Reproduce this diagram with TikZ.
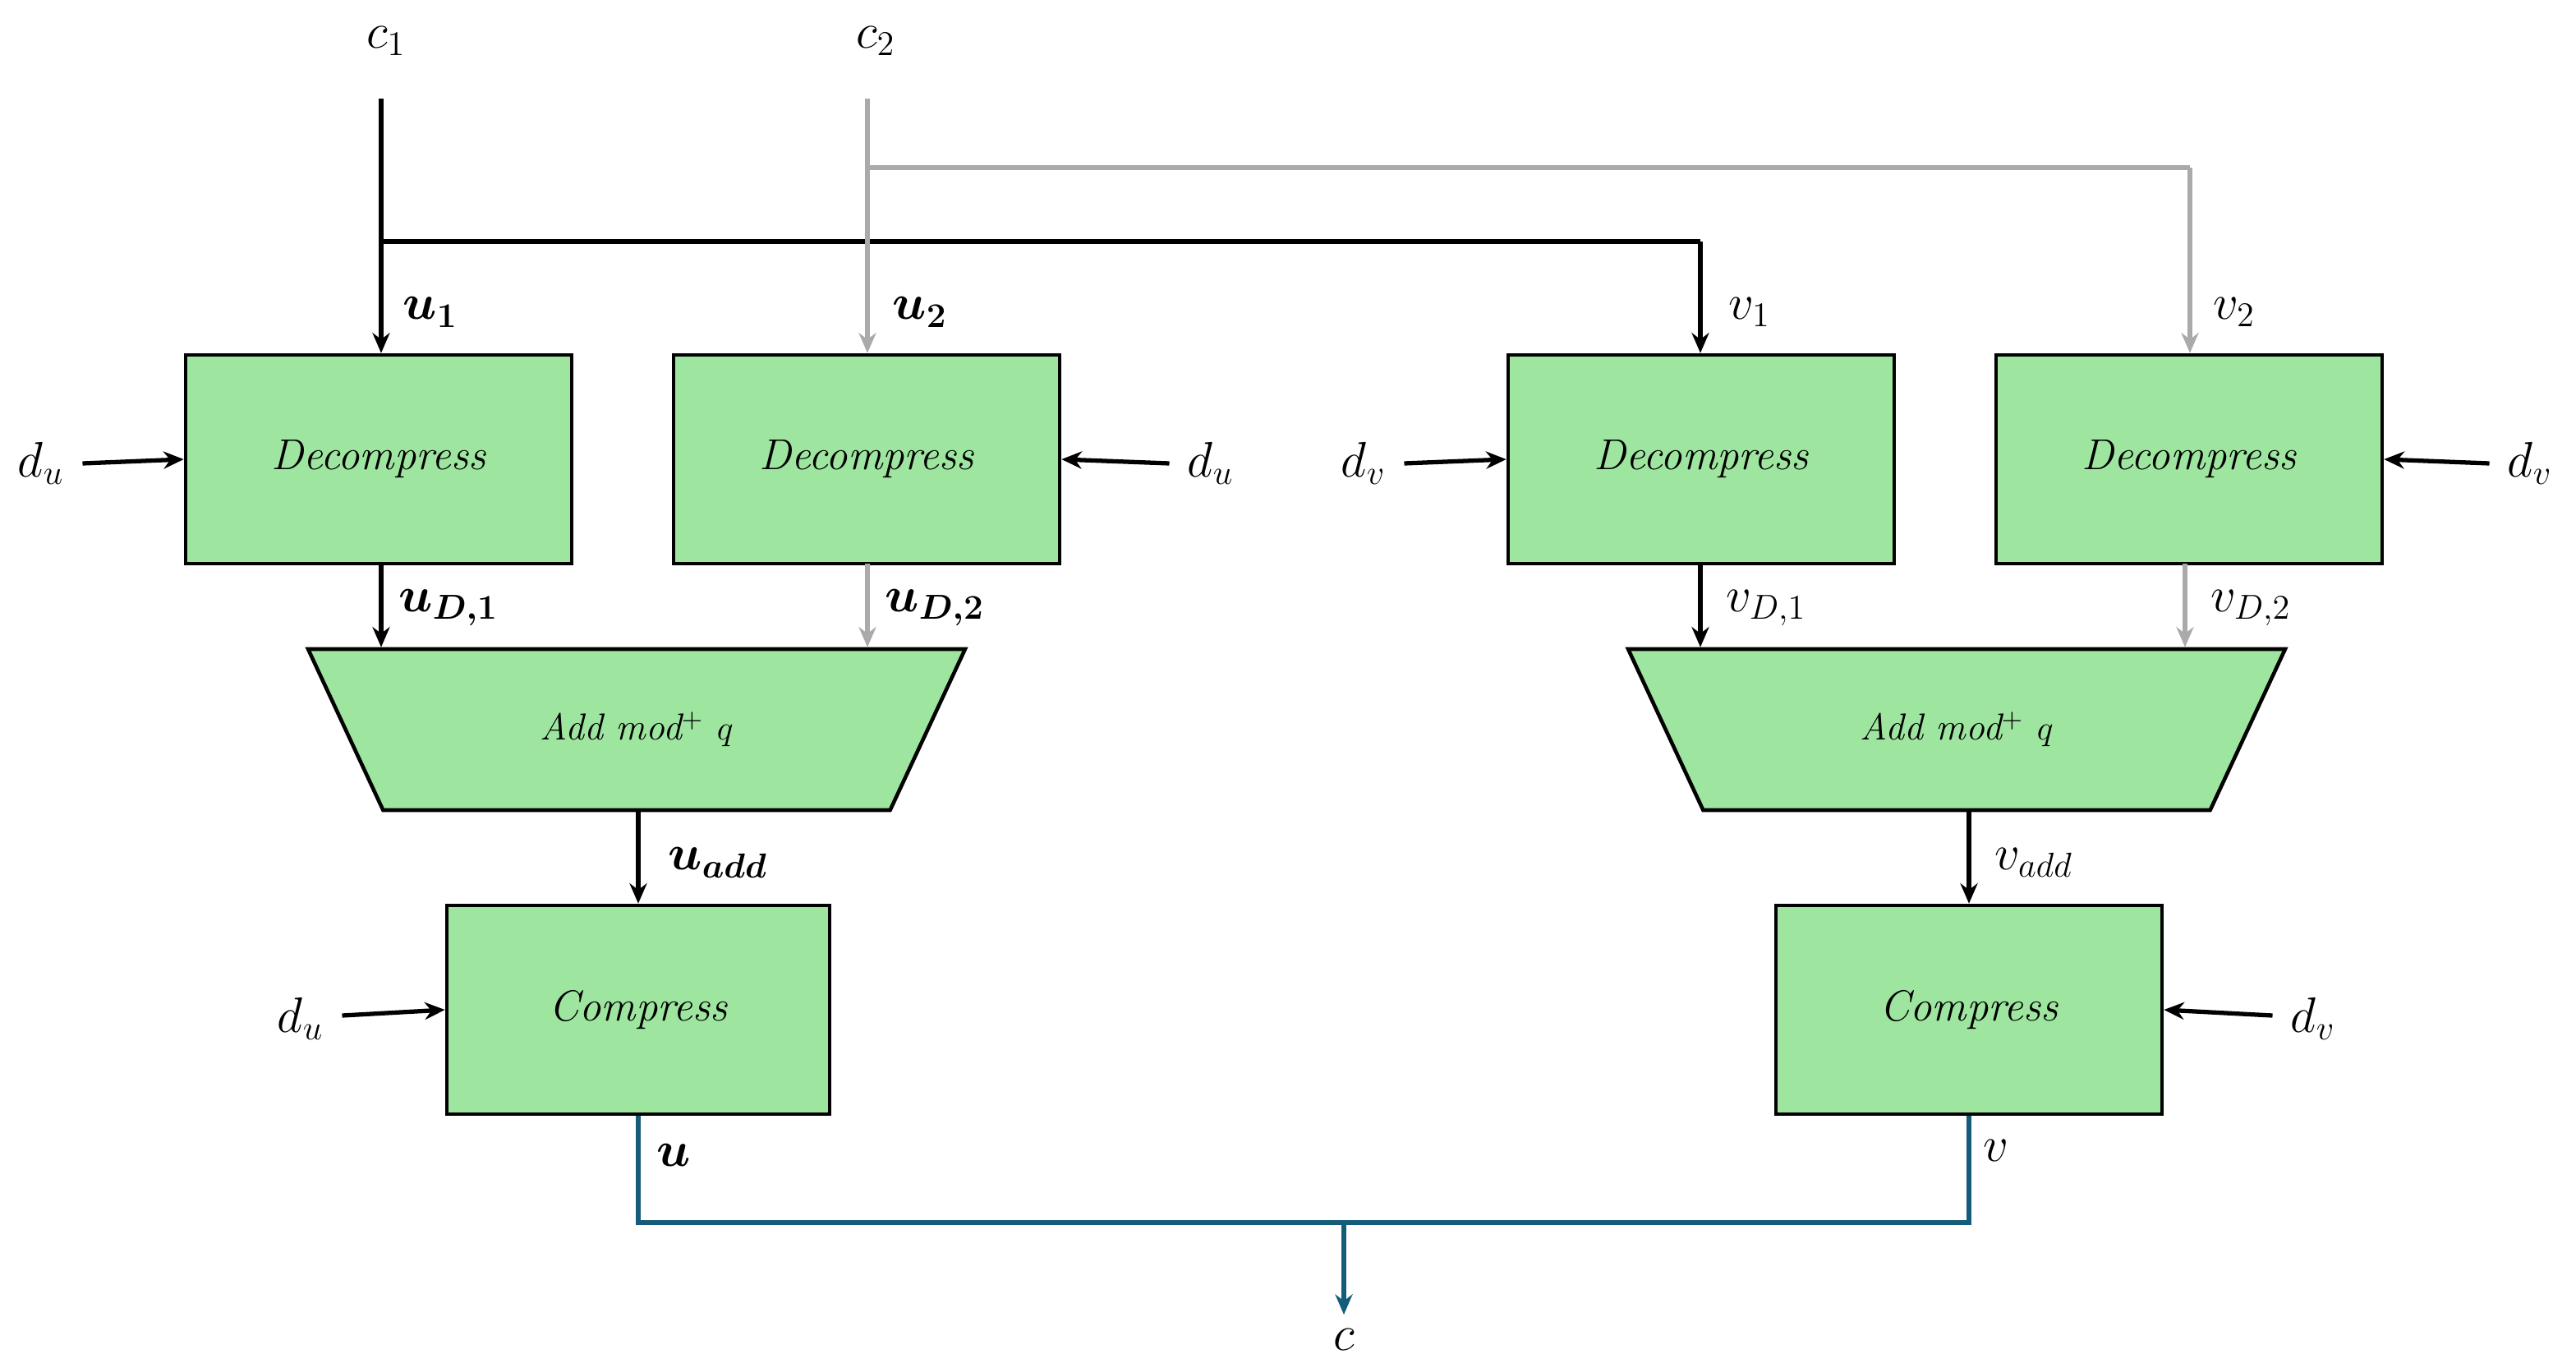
\documentclass[tikz,border=0pt]{standalone}
\usepackage{amsmath,bm}
\usetikzlibrary{arrows.meta,shapes.geometric}
\definecolor{boxg}{RGB}{158,229,160}
\definecolor{gr}{RGB}{170,170,170}
\definecolor{bl}{RGB}{20,92,122}
\begin{document}
\begin{tikzpicture}[x=0.02cm,y=-0.02cm,
  box/.style={draw,line width=1.3pt,fill=boxg,minimum width=235*0.02cm,minimum height=127*0.02cm,inner sep=0pt,font=\fontsize{15}{18}\selectfont\itshape},
  trap/.style={draw,line width=1.3pt,fill=boxg,trapezium,shape border rotate=180,trapezium stretches=true,minimum width=401*0.02cm,minimum height=98*0.02cm,trapezium left angle=50.5,trapezium right angle=50.5,inner sep=0pt,font=\fontsize{13}{15}\selectfont\itshape},
  ar/.style={line width=1.5pt,-{Stealth[length=7pt,width=6pt]}},
  ln/.style={line width=1.5pt},
  lab/.style={font=\fontsize{17}{20}\selectfont}]
\useasboundingbox (0,0) rectangle (1568,832);
\node[box] (b1) at (230.5,279.5) {Decompress};
\node[box] (b2) at (527.5,279.5) {Decompress};
\node[box] (b3) at (1035.5,279.5) {Decompress};
\node[box] (b4) at (1332.5,279.5) {Decompress};
\node[trap] (t1) at (387.5,444) {Add mod$^{+}$ $q$};
\node[trap] (t2) at (1191,444) {Add mod$^{+}$ $q$};
\node[box,minimum width=233*0.02cm] (k1) at (388.5,614.5) {Compress};
\node[box] (k2) at (1198.5,614.5) {Compress};
% inputs
\node[lab] (c1) at (235,25) {$c_1$};
\node[lab] (c2) at (533,25) {$c_2$};
\coordinate (c1s) at (232,60);
\coordinate (c2s) at (528,60);
\coordinate (j1) at (232,147);
\coordinate (j1r) at (1035,147);
\coordinate (j2) at (528,102);
\coordinate (j2r) at (1333,102);
\draw[ar] (c1s) -- (b1.north -| c1s);
\draw[ln] (j1) -- (j1r);
\draw[ar] (j1r) -- (b3.north -| j1r);
\draw[ar,gr] (c2s) -- (b2.north -| c2s);
\draw[ln,gr] (j2) -- (j2r);
\draw[ar,gr] (j2r) -- (b4.north -| j2r);
\node[lab] (lu1) at (262,190) {$\bm{u_1}$};
\node[lab] (lu2) at (560,190) {$\bm{u_2}$};
\node[lab] (lv1) at (1065,190) {$v_1$};
\node[lab] (lv2) at (1360,190) {$v_2$};
% d inputs
\node[lab] (d1) at (25,282) {$d_u$};
\node[lab] (d2) at (737,282) {$d_u$};
\node[lab] (d3) at (830,282) {$d_v$};
\node[lab] (d4) at (1540,282) {$d_v$};
\node[lab] (d5) at (183,620) {$d_u$};
\node[lab] (d6) at (1408,620) {$d_v$};
\draw[ar] (d1.east) ++(5,0) -- (b1.west);
\draw[ar] (d2.west) ++(-5,0) -- (b2.east);
\draw[ar] (d3.east) ++(5,0) -- (b3.west);
\draw[ar] (d4.west) ++(-5,0) -- (b4.east);
\draw[ar] (d5.east) ++(5,-2) -- (k1.west);
\draw[ar] (d6.west) ++(-5,-2) -- (k2.east);
% decompress outputs
\coordinate (o1) at (232,343); \coordinate (o2) at (528,343);
\coordinate (o3) at (1035,343); \coordinate (o4) at (1330,343);
\draw[ar] (o1) -- (o1 |- t1.north);
\draw[ar,gr] (o2) -- (o2 |- t1.north);
\draw[ar] (o3) -- (o3 |- t2.north);
\draw[ar,gr] (o4) -- (o4 |- t2.north);
\node[lab] (lud1) at (273,370) {$\bm{u_{D,1}}$};
\node[lab] (lud2) at (569,370) {$\bm{u_{D,2}}$};
\node[lab] (lvd1) at (1075,370) {$v_{D,1}$};
\node[lab] (lvd2) at (1370,370) {$v_{D,2}$};
% add outputs
\draw[ar] (t1.south -| k1.north) -- (k1.north);
\draw[ar] (t2.south -| k2.north) -- (k2.north);
\node[lab] (lua) at (437,525) {$\bm{u_{add}}$};
\node[lab] (lva) at (1238,525) {$v_{add}$};
% output
\coordinate (m1) at (388.5,744); \coordinate (m2) at (1198.5,744);
\coordinate (mm) at (818,744);
\draw[ln,bl] (k1.south) -- (m1) -- (m2) -- (k2.south);
\node[lab] (cc) at (818,815) {$c$};
\draw[ar,bl] (mm) -- (818,800);
\node[lab] (lu) at (410,703) {$\bm{u}$};
\node[lab] (lv) at (1215,700) {$v$};
\end{tikzpicture}
\end{document}
